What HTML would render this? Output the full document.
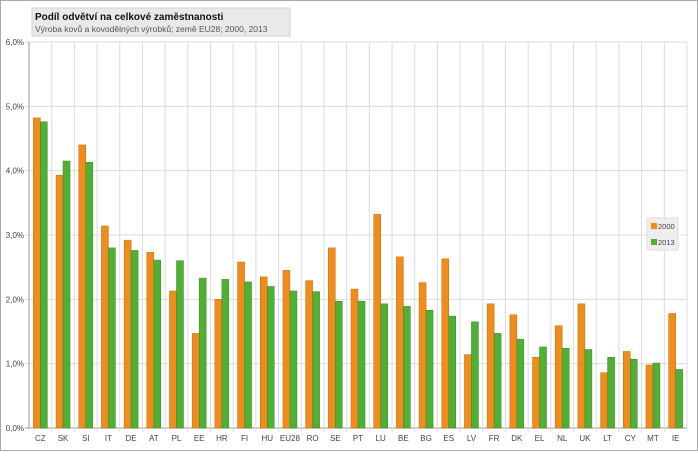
<!DOCTYPE html>
<html><head><meta charset="utf-8"><style>
body{margin:0;background:#fff;width:698px;height:451px;overflow:hidden;font-family:"Liberation Sans",sans-serif}
</style></head><body>
<svg id="s" width="698" height="451" xmlns="http://www.w3.org/2000/svg" font-family="Liberation Sans, sans-serif">
<rect x="0.5" y="0.5" width="697" height="450" fill="#fff" stroke="#aaa"/>
</svg>
<script>
const s=document.getElementById('s');
const cats="CZ SK SI IT DE AT PL EE HR FI HU EU28 RO SE PT LU BE BG ES LV FR DK EL NL UK LT CY MT IE".split(' ');
const a=[4.82,3.93,4.40,3.14,2.92,2.73,2.13,1.47,2.00,2.58,2.35,2.45,2.29,2.80,2.16,3.32,2.66,2.26,2.63,1.14,1.93,1.76,1.10,1.59,1.93,0.86,1.19,0.98,1.78];
const b=[4.76,4.15,4.13,2.80,2.76,2.61,2.60,2.33,2.31,2.27,2.20,2.13,2.12,1.97,1.97,1.93,1.89,1.83,1.74,1.65,1.47,1.38,1.26,1.24,1.22,1.10,1.07,1.01,0.91];
const x0=29,x1=687,y0=428,y6=42,w=(x1-x0)/29,u=(y0-y6)/6;
let h='';
for(let i=0;i<=6;i++){const y=y0-i*u;h+=`<line x1="${x0-4}" x2="${x1}" y1="${y}" y2="${y}" stroke="${i?'#dcdcdc':'#999'}"/>`;
h+=`<text x="${x0-5}" y="${y+3}" font-size="8" fill="#444" text-anchor="end">${i},0%</text>`;}
for(let k=1;k<=29;k++){const x=x0+k*w;h+=`<line x1="${x}" x2="${x}" y1="${y6}" y2="${y0+4}" stroke="#dcdcdc"/>`;}
h+=`<line x1="${x0}" x2="${x0}" y1="${y6}" y2="${y0}" stroke="#999"/>`;
cats.forEach((c,i)=>{const cx=x0+(i+.5)*w;const bw=7;
const ha=a[i]*u,hb=b[i]*u;
h+=`<rect x="${cx-bw}" y="${y0-ha}" width="${bw}" height="${ha}" fill="#f08c1c" stroke="#c86a0a" stroke-width="0.5"/>`;
h+=`<rect x="${cx}" y="${y0-hb}" width="${bw}" height="${hb}" fill="#4fb035" stroke="#3a8a25" stroke-width="0.5"/>`;
h+=`<text x="${cx}" y="441" font-size="8" fill="#444" text-anchor="middle">${c}</text>`;});
h+=`<rect x="32" y="8" width="258" height="28" fill="#e9e9e9" stroke="#d4d4d4"/>`;
h+=`<text x="35" y="20" font-size="10" font-weight="bold" fill="#111">Podíl odvětví na celkové zaměstnanosti</text>`;
h+=`<text x="35" y="32" font-size="8.5" fill="#555">Výroba kovů a kovodělných výrobků; země EU28; 2000, 2013</text>`;
h+=`<rect x="647" y="218" width="31" height="32" fill="#eee" stroke="#ddd"/>`;
h+=`<rect x="651" y="223" width="6" height="6" fill="#f08c1c"/><text x="658" y="229" font-size="7.5" fill="#444">2000</text>`;
h+=`<rect x="651" y="239" width="6" height="6" fill="#4fb035"/><text x="658" y="245" font-size="7.5" fill="#444">2013</text>`;
s.insertAdjacentHTML('beforeend',h);
</script>
</body></html>
